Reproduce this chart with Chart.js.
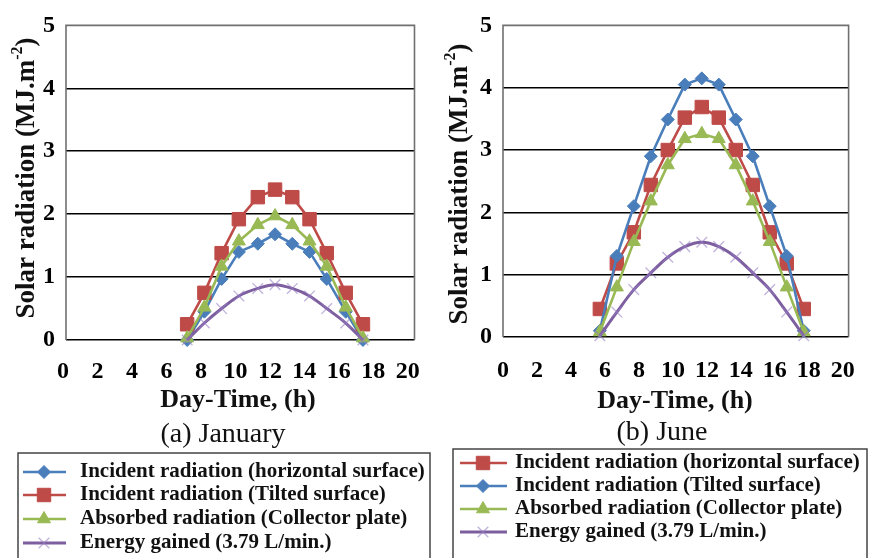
<!DOCTYPE html>
<html>
<head>
<meta charset="utf-8">
<script src="https://cdn.jsdelivr.net/npm/chart.js@4.4.1/dist/chart.umd.min.js"></script>
<style>
  html, body { margin: 0; padding: 0; background: #fff; }
  #wrap { position: relative; width: 874px; height: 558px; overflow: hidden; }
  .panel { position: absolute; top: 0; width: 437px; height: 558px; }
</style>
</head>
<body>
<div id="wrap">
  <div class="panel" style="left:0"><canvas id="janChart"></canvas></div>
  <div class="panel" style="left:437px"><canvas id="junChart"></canvas></div>
</div>
<script>
// axis ticks
const hourTicks = [0, 2, 4, 6, 8, 10, 12, 14, 16, 18, 20];
const radiationTicks = [0, 1, 2, 3, 4, 5];

// (a) January
const janHours      = [7.2, 8.2, 9.2, 10.2, 11.3, 12.3, 13.3, 14.3, 15.3, 16.4, 17.4];
const janHorizontal = [0.00, 0.45, 0.97, 1.40, 1.53, 1.68, 1.53, 1.40, 0.97, 0.45, 0.00];
const janTilted     = [0.25, 0.75, 1.38, 1.92, 2.27, 2.39, 2.27, 1.92, 1.38, 0.75, 0.25];
const janAbsorbed   = [0.03, 0.52, 1.17, 1.57, 1.83, 1.97, 1.83, 1.57, 1.17, 0.52, 0.03];
const janGained     = [0.00, 0.27, 0.50, 0.70, 0.82, 0.88, 0.82, 0.70, 0.50, 0.27, 0.00];

// (b) June
const junHours      = [5.7, 6.7, 7.7, 8.7, 9.7, 10.7, 11.7, 12.7, 13.7, 14.7, 15.7, 16.7, 17.7];
const junHorizontal = [0.45, 1.18, 1.68, 2.44, 3.00, 3.52, 3.69, 3.52, 3.00, 2.44, 1.68, 1.18, 0.45];
const junTilted     = [0.10, 1.30, 2.10, 2.90, 3.49, 4.05, 4.15, 4.05, 3.49, 2.90, 2.10, 1.30, 0.10];
const junAbsorbed   = [0.08, 0.80, 1.53, 2.18, 2.76, 3.18, 3.26, 3.18, 2.76, 2.18, 1.53, 0.80, 0.08];
const junGained     = [0.02, 0.40, 0.76, 1.03, 1.28, 1.45, 1.52, 1.45, 1.28, 1.03, 0.76, 0.40, 0.02];

const seriesNames = [
  'Incident radiation (horizontal surface)',
  'Incident radiation (Tilted surface)',
  'Absorbed radiation (Collector plate)',
  'Energy gained (3.79 L/min.)'
];

const serif = '"Liberation Serif", "Times New Roman", serif';

// excel-ish series looks
const looks = {
  blue:   { line: '#4A7EBB', fill: '#4A7EBB', point: 'rectRot',  r: 6.5, bw: 1, lw: 2.6 },
  red:    { line: '#BE4B48', fill: '#BE4B48', point: 'rect',     r: 9.5, bw: 1, lw: 2.6 },
  green:  { line: '#98B954', fill: '#98B954', point: 'triangle', r: 7.5, bw: 1, lw: 2.6 },
  purple: { line: '#7D5FA0', fill: 'rgba(150,125,195,0.6)', point: 'crossRot', r: 7.5, bw: 1.3, lw: 3 }
};

function series(label, hours, values, look, order, smooth) {
  return {
    label: label,
    data: hours.map((h, i) => ({ x: h, y: values[i] })),
    borderColor: look.line,
    borderWidth: look.lw,
    backgroundColor: look.fill,
    pointStyle: look.point,
    pointRadius: look.r,
    pointBackgroundColor: look.fill,
    pointBorderColor: look.point === 'crossRot' ? look.fill : look.line,
    pointBorderWidth: look.bw,
    tension: smooth ? 0.4 : 0,
    cubicInterpolationMode: smooth ? 'monotone' : 'default',
    clip: false,
    order: order,
    look: look
  };
}

function drawMark(ctx, look, x, y) {
  ctx.fillStyle = look.fill;
  ctx.strokeStyle = look.point === 'crossRot' ? look.fill : look.line;
  ctx.lineWidth = look.bw;
  if (Chart.helpers && Chart.helpers.drawPoint) {
    Chart.helpers.drawPoint(ctx, { pointStyle: look.point, radius: look.r, rotation: 0, borderWidth: look.bw }, x, y);
  }
}

// frame, axis titles, caption and boxed legend
function panelDecor(p) {
  return {
    id: 'panelDecor',
    beforeDatasetsDraw(chart) {
      const { ctx, chartArea: a } = chart;
      ctx.save();
      ctx.strokeStyle = '#707070';
      ctx.lineWidth = 1.6;
      ctx.beginPath();
      ctx.moveTo(a.left, a.bottom);
      ctx.lineTo(a.left, a.top);
      ctx.lineTo(a.right, a.top);
      ctx.lineTo(a.right, a.bottom);
      ctx.stroke();
      ctx.restore();
    },
    afterDraw(chart) {
      const ctx = chart.ctx;
      ctx.save();
      ctx.fillStyle = '#111';

      // y title with superscript
      ctx.save();
      ctx.translate(p.yTitleX, p.yTitleY);
      ctx.rotate(-Math.PI / 2);
      const main = 'Solar radiation (MJ.m', sup = '-2', tail = ')';
      const big = 'bold 27px ' + serif, small = 'bold 16px ' + serif;
      ctx.font = big; const w1 = ctx.measureText(main).width, w3 = ctx.measureText(tail).width;
      ctx.font = small; const w2 = ctx.measureText(sup).width;
      let sx = -(w1 + w2 + w3) / 2;
      ctx.textBaseline = 'alphabetic';
      ctx.textAlign = 'left';
      ctx.font = big; ctx.fillText(main, sx, 9); sx += w1;
      ctx.font = small; ctx.fillText(sup, sx, -3); sx += w2;
      ctx.font = big; ctx.fillText(tail, sx, 9);
      ctx.restore();

      // x title
      ctx.font = 'bold 26px ' + serif;
      ctx.textAlign = 'center';
      ctx.textBaseline = 'alphabetic';
      ctx.fillText('Day-Time, (h)', p.xTitleX, p.xTitleBase);

      // caption
      ctx.font = '28px ' + serif;
      ctx.textBaseline = 'middle';
      ctx.fillText(p.caption, p.capX, p.capY);

      // legend box
      ctx.strokeStyle = '#444';
      ctx.lineWidth = 1.5;
      ctx.strokeRect(p.box[0], p.box[1], p.box[2] - p.box[0], 600);

      chart.data.datasets.forEach((ds, i) => {
        const y = p.rows[i];
        ctx.strokeStyle = ds.look.line;
        ctx.lineWidth = ds.look.lw;
        ctx.beginPath();
        ctx.moveTo(p.lineX[0], y);
        ctx.lineTo(p.lineX[1], y);
        ctx.stroke();
        drawMark(ctx, ds.look, p.markX, y);
        ctx.fillStyle = '#111';
        ctx.font = 'bold 21px ' + serif;
        ctx.textAlign = 'left';
        ctx.textBaseline = 'middle';
        ctx.fillText(ds.label, p.textX, y);
      });
      ctx.restore();
    }
  };
}

function makeChart(id, datasets, xr, frame, decor) {
  return new Chart(document.getElementById(id), {
    type: 'line',
    data: { datasets: datasets },
    options: {
      responsive: true,
      maintainAspectRatio: false,
      animation: false,
      events: [],
      layout: { padding: { left: 0, top: frame.top, right: frame.right, bottom: frame.bottom } },
      plugins: { legend: { display: false }, tooltip: { enabled: false } },
      scales: {
        x: {
          type: 'linear',
          min: xr[0], max: xr[1],
          afterBuildTicks: s => { s.ticks = hourTicks.map(v => ({ value: v })); },
          afterFit: s => { s.height = 50; },
          grid: { display: false, drawTicks: false },
          border: { display: false },
          ticks: {
            autoSkip: false, maxRotation: 0, padding: frame.xPad, color: '#000',
            font: { family: serif, size: 24, weight: 'bold' }
          }
        },
        y: {
          min: 0, max: 5,
          afterBuildTicks: s => { s.ticks = radiationTicks.map(v => ({ value: v })); },
          afterFit: s => { s.width = 66; },
          grid: {
            drawTicks: false, lineWidth: 1.6,
            color: c => (c.tick && c.tick.value === 5) ? 'rgba(0,0,0,0)' : '#000'
          },
          border: { display: false },
          ticks: {
            padding: 11, color: '#000',
            font: { family: serif, size: 24, weight: 'bold' }
          }
        }
      }
    },
    plugins: [panelDecor(decor)]
  });
}

makeChart('janChart', [
  series(seriesNames[0], janHours, janHorizontal, looks.blue, 3, false),
  series(seriesNames[1], janHours, janTilted, looks.red, 2, false),
  series(seriesNames[2], janHours, janAbsorbed, looks.green, 1, false),
  series(seriesNames[3], janHours, janGained, looks.purple, 0, true)
], [0.17, 20.39], { top: 13, right: 12, bottom: 168, xPad: 17 }, {
  yTitleX: 25, yTitleY: 178, xTitleX: 238, xTitleBase: 407,
  caption: '(a) January', capX: 223, capY: 435,
  box: [18, 453, 430], rows: [472, 495, 519, 543],
  lineX: [23, 66], markX: 44, textX: 80
});

makeChart('junChart', [
  series(seriesNames[0], junHours, junHorizontal, looks.red, 3, false),
  series(seriesNames[1], junHours, junTilted, looks.blue, 2, false),
  series(seriesNames[2], junHours, junAbsorbed, looks.green, 1, false),
  series(seriesNames[3], junHours, junGained, looks.purple, 0, true)
], [0, 20.34], { top: 13, right: 11, bottom: 171, xPad: 19 }, {
  yTitleX: 21, yTitleY: 184, xTitleX: 238, xTitleBase: 408,
  caption: '(b) June', capX: 225, capY: 433,
  box: [16, 449, 430], rows: [463, 486, 509, 532],
  lineX: [23, 70], markX: 46, textX: 78
});
</script>
</body>
</html>
